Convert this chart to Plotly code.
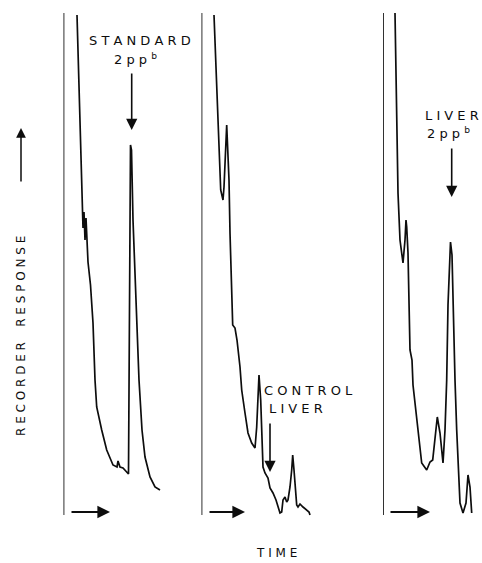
import plotly.graph_objects as go

# ---------------- data (time offset from injection, recorder response above baseline) ----------------
std_time = [13.5, 18.5, 19.5, 20.5, 21.5, 22.5, 23.5, 24.5, 27.0, 29.5, 31.5, 33.2, 38.2, 43.2, 49.5, 53.5,
            54.5, 56.5, 59.5, 63.5, 65.0, 67.0, 68.0, 69.5, 72.5, 75.5, 78.5, 81.5, 86.5, 91.5, 96.5]
std_resp = [498, 308, 285, 301, 273, 295, 277, 251, 228, 190, 133, 106, 83, 63, 48, 46,
            52, 46, 45, 40, 39, 368, 363, 293, 203, 133, 83, 56, 36, 26, 23]

ctrl_time = [12.5, 18.5, 19.2, 21.5, 22.5, 25.2, 26.2, 27.5, 28.5, 30.2, 31.2, 33.5, 35.5, 38.5, 40.2,
             43.5, 46.5, 50.2, 53.5, 55.2, 57.5, 59.2, 61.2, 61.5, 63.5, 66.5, 68.5, 71.5, 74.5, 76.5,
             78.5, 80.2, 81.5, 83.5, 85.2, 86.5, 88.5, 90.2, 91.2, 92.5, 95.2, 96.5, 98.5, 101.5, 105.2,
             107.5, 108.5]
ctrl_resp = [498, 336, 323, 313, 326, 388, 363, 333, 280, 213, 188, 185, 173, 146, 123,
             100, 80, 70, 65, 86, 138, 113, 66, 46, 40, 35, 25, 20, 13, 6,
             0, 1, 13, 16, 11, 13, 26, 43, 58, 43, 8, 6, 9, 6, 3,
             1, -2]

liver_time = [12, 15, 17, 18.7, 20, 22, 23, 23.7, 25, 27, 29, 30, 33.7, 38.7, 43.7, 47, 49.7, 52, 54.3,
              57, 60, 62, 63.7, 65, 67.5, 69, 70.5, 72, 73.7, 77, 80, 83, 85, 87, 88.7]
liver_resp = [500, 320, 273, 260, 250, 273, 293, 286, 260, 163, 153, 128, 93, 50, 43, 51, 53, 73, 96,
              80, 50, 83, 133, 208, 271, 258, 183, 133, 83, 10, 0, 10, 38, 26, 0]

injection_time = [0, 0]
injection_resp = [-2, 500]

panel_times = [std_time, ctrl_time, liver_time]
panel_resps = [std_resp, ctrl_resp, liver_resp]

# peak markers
peak_labels = [["STANDARD", "2pp^b"], ["CONTROL", "LIVER"], ["LIVER", "2pp^b"]]
peak_label_time = [[23.5, 48.5], [60.5, 65.5], [40.0, 42.0]]
peak_label_resp = [[473, 454], [123, 105], [398, 380]]
peak_arrow_time = [68.2, 68.5, 68.7]
peak_arrow_tail = [441, 91, 366]
peak_arrow_tip = [383, 41, 316]

time_arrow_start = [6.5, 6.5, 6.0]
time_arrow_end = [46.5, 43.5, 47.0]
time_arrow_resp = 1

y_label = "RECORDER  RESPONSE"
x_label = "TIME"

# ---------------- layout ----------------
W, H = 482, 563
panel_x0 = [63.5, 201.5, 383.0]
panel_w = [120, 130, 99]
baseline_px = 513

INK = "#0d0d0d"
FONT = "DejaVu Sans"


def spaced(s):
    out = []
    for word in s.split(" "):
        out.append("\u00a0".join(word) if word else "\u00a0\u00a0")
    return "\u00a0".join(out)


def fmt(s):
    if "^" in s:
        base, sup = s.split("^")
        return spaced(base) + "\u00a0<sup>" + sup + "</sup>"
    return spaced(s)


fig = go.Figure()
annotations = []
for i in range(3):
    xa = "x" if i == 0 else f"x{i + 1}"
    fig.add_trace(go.Scatter(x=injection_time, y=injection_resp, xaxis=xa, yaxis="y", mode="lines",
                             line=dict(color=INK, width=1.7), hoverinfo="skip", showlegend=False))
    fig.add_trace(go.Scatter(x=panel_times[i], y=panel_resps[i], xaxis=xa, yaxis="y", mode="lines",
                             line=dict(color=INK, width=1.7), showlegend=False))
    annotations.append(dict(x=time_arrow_end[i], y=time_arrow_resp, ax=time_arrow_start[i], ay=time_arrow_resp,
                            xref=xa, yref="y", axref=xa, ayref="y", text="", showarrow=True,
                            arrowhead=2, arrowsize=1.4, arrowwidth=1.8, arrowcolor=INK))
    annotations.append(dict(x=peak_arrow_time[i], y=peak_arrow_tip[i], ax=peak_arrow_time[i], ay=peak_arrow_tail[i],
                            xref=xa, yref="y", axref=xa, ayref="y", text="", showarrow=True,
                            arrowhead=2, arrowsize=1.4, arrowwidth=1.6, arrowcolor=INK))
    for j, lab in enumerate(peak_labels[i]):
        annotations.append(dict(x=peak_label_time[i][j], y=peak_label_resp[i][j], xref=xa, yref="y",
                                text=fmt(lab), showarrow=False, xanchor="left", yanchor="middle",
                                font=dict(family=FONT, size=13, color=INK)))

annotations.append(dict(x=276.5 / W, y=1 - 553 / H, xref="paper", yref="paper", text=spaced(x_label),
                        showarrow=False, xanchor="center", yanchor="middle",
                        font=dict(family=FONT, size=12, color=INK)))
annotations.append(dict(x=21 / W, y=1 - 336 / H, xref="paper", yref="paper", text=spaced(y_label),
                        showarrow=False, textangle=-90, xanchor="center", yanchor="middle",
                        font=dict(family=FONT, size=12, color=INK)))
annotations.append(dict(x=21 / W, y=1 - 128 / H, ax=0, ay=55, xref="paper", yref="paper",
                        text="", showarrow=True,
                        arrowhead=2, arrowsize=1.3, arrowwidth=1.5, arrowcolor=INK))

layout = dict(width=W, height=H, margin=dict(l=0, r=0, t=0, b=0), paper_bgcolor="white",
              plot_bgcolor="white", annotations=annotations,
              yaxis=dict(domain=[0, 1], range=[baseline_px - H, baseline_px], visible=False))
for i in range(3):
    key = "xaxis" if i == 0 else f"xaxis{i + 1}"
    layout[key] = dict(domain=[panel_x0[i] / W, min(1.0, (panel_x0[i] + panel_w[i]) / W)],
                       range=[0, panel_w[i]], visible=False, anchor="y")
fig.update_layout(**layout)
fig.write_html("out.html")
